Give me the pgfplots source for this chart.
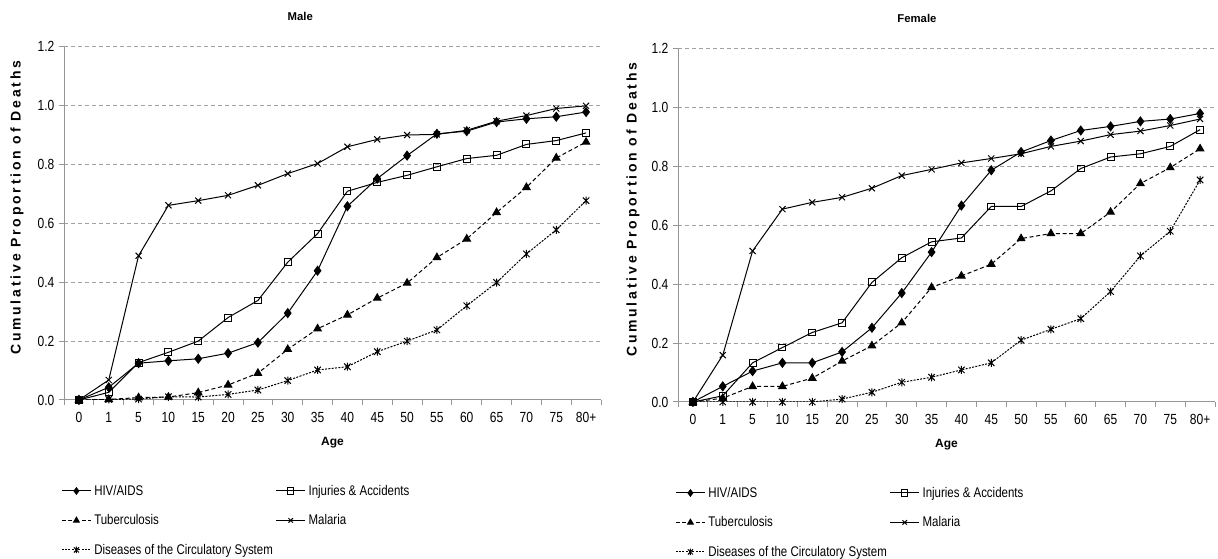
\documentclass[border=0pt]{standalone}
\usepackage{fontspec}
\setmainfont{Liberation Sans}
\newfontfamily\narrowfont{Liberation Sans}[FakeStretch=0.82]
\newfontfamily\spacedbold{Liberation Sans}[LetterSpace=20]
\usepackage{pgfplots}
\usepackage{pgfplotstable}
\pgfplotsset{compat=1.18}

% asterisk-like marker: an x with a vertical bar through it
\pgfdeclareplotmark{xstar}{%
  \pgfpathmoveto{\pgfqpoint{0pt}{\pgfplotmarksize}}%
  \pgfpathlineto{\pgfqpoint{0pt}{-\pgfplotmarksize}}%
  \pgfpathmoveto{\pgfqpoint{-0.8\pgfplotmarksize}{0.8\pgfplotmarksize}}%
  \pgfpathlineto{\pgfqpoint{0.8\pgfplotmarksize}{-0.8\pgfplotmarksize}}%
  \pgfpathmoveto{\pgfqpoint{-0.8\pgfplotmarksize}{-0.8\pgfplotmarksize}}%
  \pgfpathlineto{\pgfqpoint{0.8\pgfplotmarksize}{0.8\pgfplotmarksize}}%
  \pgfusepathqstroke}

% cumulative proportion of deaths by age group (0 = age 0, ..., 17 = 80+)
\pgfplotstableread{
idx hiv   inj   tb    mal   circ
0   0.000 0.000 0.000 0.000 0.000
1   0.043 0.026 0.002 0.068 0.002
2   0.125 0.127 0.008 0.490 0.003
3   0.133 0.162 0.010 0.661 0.011
4   0.140 0.200 0.025 0.677 0.010
5   0.159 0.280 0.051 0.695 0.019
6   0.195 0.338 0.091 0.729 0.034
7   0.295 0.468 0.172 0.769 0.066
8   0.439 0.565 0.242 0.803 0.102
9   0.658 0.709 0.289 0.860 0.113
10  0.752 0.739 0.346 0.885 0.164
11  0.830 0.763 0.397 0.900 0.200
12  0.904 0.792 0.484 0.902 0.238
13  0.913 0.820 0.547 0.916 0.320
14  0.944 0.831 0.637 0.947 0.399
15  0.955 0.868 0.722 0.966 0.496
16  0.962 0.881 0.822 0.990 0.578
17  0.978 0.907 0.876 0.999 0.677
}\maledata

\pgfplotstableread{
idx hiv   inj   tb    mal   circ
0   0.000 0.000 0.000 0.000 0.000
1   0.053 0.021 0.013 0.159 0.000
2   0.105 0.133 0.053 0.513 0.000
3   0.133 0.185 0.053 0.655 0.000
4   0.133 0.236 0.081 0.678 0.000
5   0.170 0.269 0.139 0.695 0.010
6   0.252 0.406 0.191 0.726 0.033
7   0.370 0.490 0.269 0.769 0.067
8   0.509 0.544 0.389 0.790 0.084
9   0.667 0.557 0.428 0.812 0.109
10  0.787 0.664 0.468 0.827 0.133
11  0.849 0.664 0.555 0.843 0.210
12  0.888 0.717 0.572 0.868 0.247
13  0.922 0.793 0.572 0.886 0.283
14  0.936 0.832 0.645 0.908 0.375
15  0.953 0.843 0.742 0.920 0.496
16  0.961 0.868 0.796 0.939 0.580
17  0.980 0.925 0.860 0.961 0.754
}\femaledata

\definecolor{axisgray}{RGB}{150,150,150}
\definecolor{gridgray}{RGB}{160,160,160}

\pgfplotsset{
  mortality/.style={
    scale only axis,
    width=402.75pt, height=265pt,
    xmin=-0.5, xmax=17.5, ymin=0, ymax=1.2,
    axis x line*=bottom, axis y line*=left,
    axis line style={draw=axisgray, line width=0.75pt},
    xtick={0,...,17},
    xticklabels={0,1,5,10,15,20,25,30,35,40,45,50,55,60,65,70,75,80+},
    minor xtick={-0.5,0.5,...,17.5},
    ytick={0,0.2,...,1.2},
    yticklabel style={/pgf/number format/.cd, fixed, fixed zerofill, precision=1},
    /pgf/number format/assume math mode=true,
    tick align=outside,
    major tick length=3.75pt, minor tick length=3.75pt,
    major x tick style={draw=none},
    every tick/.style={draw=axisgray, line width=0.75pt},
    ymajorgrids,
    major grid style={draw=gridgray, line width=0.75pt, dash pattern=on 3pt off 2.25pt},
    ticklabel style={font=\narrowfont\fontsize{11}{13}\selectfont},
    xticklabel style={yshift=-2pt},
    title style={font=\bfseries\fontsize{8.5}{10}\selectfont, at={(axis description cs:0.44,1)}, anchor=center, yshift=16.5pt},
    xlabel style={font=\bfseries\fontsize{9}{11}\selectfont, at={(axis description cs:0.5,0)}, anchor=center, yshift=-32pt},
    ylabel style={font=\spacedbold\bfseries\fontsize{10.5}{12}\selectfont, at={(axis description cs:-0.0875,0.544)}, anchor=center},
    xlabel={Age},
    ylabel={Cumulative Proportion of Deaths},
    legend columns=2,
    legend cell align=left,
    legend style={draw=none, fill=none, inner sep=0pt, font=\narrowfont\fontsize{10.5}{12}\selectfont,
      /tikz/every even column/.append style={column sep=0pt},
      row sep=9pt,
      at={(axis description cs:-0.0056,-0.232)}, anchor=north west},
    legend image code/.code={%
      \draw[mark repeat=2, mark phase=2, #1, mark size=2.4pt] plot coordinates {(0pt,0pt)(11pt,0pt)(22pt,0pt)};},
  },
  hivline/.style={black, line width=0.75pt, mark=diamond*, mark size=3.3pt, mark options={solid}},
  injline/.style={black, line width=0.75pt, mark=square, mark size=2.6pt, mark options={solid, fill=white}},
  tbline/.style={black, line width=0.75pt, dash pattern=on 3pt off 2pt, mark=triangle*, mark size=3.2pt, mark options={solid}},
  malline/.style={black, line width=0.75pt, mark=x, mark size=3.2pt, mark options={solid}},
  circline/.style={black, line width=0.75pt, dash pattern=on 1.5pt off 1pt, mark=xstar, mark size=3pt, mark options={solid}},
}

\begin{document}
\begin{tikzpicture}
\path[use as bounding box] (0,0) rectangle (913.5pt,419.25pt);

\begin{axis}[mortality, title={Male}, at={(48pt,119.25pt)}, anchor=south west]
  \addplot[hivline]  table[x=idx, y=hiv]  {\maledata};
  \addlegendentry{HIV/AIDS}
  \addplot[injline]  table[x=idx, y=inj]  {\maledata};
  \addlegendentry{Injuries \& Accidents}
  \addplot[tbline]   table[x=idx, y=tb]   {\maledata};
  \addlegendentry{Tuberculosis}
  \addplot[malline]  table[x=idx, y=mal]  {\maledata};
  \addlegendentry{Malaria}
  \addplot[circline] table[x=idx, y=circ] {\maledata};
  \addlegendentry{Diseases of the Circulatory System}
\end{axis}

\begin{axis}[mortality, title={Female}, at={(508.5pt,117.75pt)}, anchor=south west,
  title style={at={(axis description cs:0.445,1)}},
  ylabel style={at={(axis description cs:-0.084,0.544)}}]
  \addplot[hivline]  table[x=idx, y=hiv]  {\femaledata};
  \addlegendentry{HIV/AIDS}
  \addplot[injline]  table[x=idx, y=inj]  {\femaledata};
  \addlegendentry{Injuries \& Accidents}
  \addplot[tbline]   table[x=idx, y=tb]   {\femaledata};
  \addlegendentry{Tuberculosis}
  \addplot[malline]  table[x=idx, y=mal]  {\femaledata};
  \addlegendentry{Malaria}
  \addplot[circline] table[x=idx, y=circ] {\femaledata};
  \addlegendentry{Diseases of the Circulatory System}
\end{axis}
\end{tikzpicture}
\end{document}
